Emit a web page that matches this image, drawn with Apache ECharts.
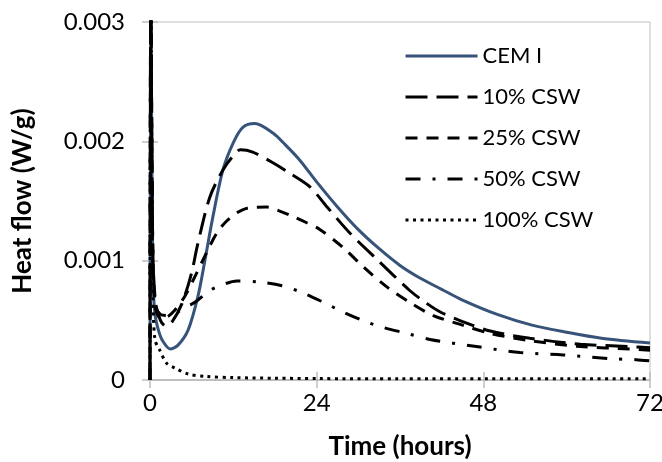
<!DOCTYPE html>
<html>
<head>
<meta charset="utf-8">
<script src="https://cdn.jsdelivr.net/npm/echarts@6/dist/echarts.min.js"></script>
<style>
  html, body { margin: 0; padding: 0; background: #fff; }
  #chart { width: 662px; height: 462px; }
</style>
</head>
<body>
<div id="chart"></div>
<script>
// legend names
var seriesNames = ['CEM I', '10% CSW', '25% CSW', '50% CSW', '100% CSW'];
var xTicks = [0, 24, 48, 72];

// CEM I
var cemTime = [0, 0.12, 0.4, 0.7, 1.2, 1.8, 2.9, 4, 5.5, 6.9, 7.9, 9, 10.5, 12, 13.4, 15.1, 17.7, 19.5, 21.6, 24, 27, 30, 33, 36, 39, 42, 45, 50, 55, 60, 65, 72];
var cemFlow = [0, 0.0033, 0.0009, 0.00056, 0.00042, 0.00033, 0.00026, 0.00029, 0.00042, 0.0007, 0.001, 0.00135, 0.00176, 0.00199, 0.00212, 0.00215, 0.00207, 0.00197, 0.00184, 0.00166, 0.00145, 0.00126, 0.0011, 0.00096, 0.00085, 0.00076, 0.00067, 0.00055, 0.00046, 0.0004, 0.00035, 0.00031];

// 10% CSW
var csw10Time = [0, 0.12, 0.4, 0.8, 1.5, 2.3, 3.2, 4.6, 6, 6.8, 8.6, 10.5, 12, 13, 14.8, 17.7, 20.2, 23, 25.5, 28.8, 32.7, 37.4, 39.9, 41.8, 45, 49, 54.7, 62, 69, 72];
var csw10Flow = [0, 0.0033, 0.0011, 0.00065, 0.0005, 0.00045, 0.00049, 0.00064, 0.0009, 0.00112, 0.00153, 0.00176, 0.00188, 0.00193, 0.00191, 0.00182, 0.00173, 0.00162, 0.00145, 0.00123, 0.00101, 0.00075, 0.00064, 0.00057, 0.00049, 0.00041, 0.00035, 0.0003, 0.00028, 0.00027];

// 25% CSW
var csw25Time = [0, 0.12, 0.4, 0.8, 1.5, 2.5, 3.5, 5, 6.5, 8, 9.6, 11, 12.5, 14, 16.8, 18.5, 20.6, 22.5, 24.5, 27.8, 30.7, 34.1, 37.4, 40.8, 45, 49, 54.7, 62, 69, 72];
var csw25Flow = [0, 0.0033, 0.0011, 0.0006, 0.00052, 0.00053, 0.00058, 0.0007, 0.00087, 0.00105, 0.00123, 0.00133, 0.0014, 0.00144, 0.00145, 0.00142, 0.00137, 0.00132, 0.00126, 0.00111, 0.00095, 0.00078, 0.00065, 0.00054, 0.00046, 0.00039, 0.00033, 0.00028, 0.00026, 0.00025];

// 50% CSW
var csw50Time = [0, 0.12, 0.4, 0.8, 1.5, 2.5, 4, 5.5, 6.7, 8.6, 10.5, 12.5, 15.8, 19, 22, 25, 27.8, 31, 33.6, 37, 40.3, 47, 53.3, 59.5, 66, 70, 72];
var csw50Flow = [0, 0.0033, 0.0011, 0.00062, 0.00055, 0.00054, 0.00057, 0.00062, 0.00066, 0.00075, 0.0008, 0.00083, 0.00082, 0.00079, 0.00073, 0.00065, 0.00057, 0.00049, 0.00044, 0.00039, 0.00034, 0.00028, 0.00023, 0.00021, 0.00018, 0.00017, 0.00016];

// 100% CSW
var csw100Time = [0, 0.12, 0.4, 0.7, 1.4, 2.4, 3.6, 5.5, 8, 12, 18, 24, 36, 48, 60, 72];
var csw100Flow = [0, 0.0033, 0.0008, 0.00034, 0.00025, 0.00014, 0.0001, 0.00005, 0.00003, 0.00002, 0.000015, 0.000012, 0.00001, 0.00001, 0.00001, 0.00001];

function zip(t, v) {
	var out = [];
	for (var i = 0; i < t.length; i++) {
		out.push([t[i], v[i]]);
	}
	return out;
}

var font = 'Lato, "Open Sans", sans-serif';
var gray = '#bfbfbf';

function mkSeries(name, t, v, color, dash) {
	return {
		name : name,
		type : 'line',
		data : zip(t, v),
		symbol : 'none',
		smooth : 0.3,
		clip : true,
		lineStyle : {
			color : color,
			width : 3,
			type : dash,
			cap : 'butt'
		},
		itemStyle : { color : color }
	};
}

var chart = echarts.init(document.getElementById('chart'));
var option = {
	animation : false,
	backgroundColor : '#fff',
	grid : {
		left : 150,
		right : 12,
		top : 22,
		bottom : 82,
		outerBoundsMode : 'none',
		containLabel : false,
		show : true,
		borderColor : gray,
		borderWidth : 1
	},
	legend : {
		orient : 'vertical',
		left : 399,
		top : 40,
		itemWidth : 72,
		itemHeight : 22,
		itemGap : 19,
		data : seriesNames,
		itemStyle : { opacity : 0 },
		lineStyle : { width : 3 },
		textStyle : { fontFamily : font, fontSize : 22, color : '#000' }
	},
	xAxis : [ {
		type : 'value',
		min : 0,
		max : 72,
		interval : 24,
		name : 'Time (hours)',
		nameLocation : 'middle',
		nameGap : 54,
		nameTextStyle : { fontFamily : font, fontSize : 26, fontWeight : 'bold', color : '#000' },
		axisLine : { show : true, lineStyle : { color : gray, width : 2 } },
		axisTick : { show : true, length : 8, lineStyle : { color : gray, width : 1.5 } },
		axisLabel : {
			margin : 11,
			fontFamily : font,
			fontSize : 24,
			color : '#000',
			formatter : function(v) { return xTicks.indexOf(v) >= 0 ? String(v) : ''; }
		},
		splitLine : { show : false }
	}, {
		type : 'value',
		position : 'bottom',
		min : 0,
		max : 72,
		interval : 24,
		axisLine : { show : false },
		axisTick : { show : true, inside : true, length : 8, lineStyle : { color : gray, width : 1.5 } },
		axisLabel : { show : false },
		splitLine : { show : false }
	} ],
	yAxis : [ {
		type : 'value',
		min : 0,
		max : 0.003,
		interval : 0.001,
		name : 'Heat flow (W/g)',
		nameLocation : 'middle',
		nameGap : 114,
		nameTextStyle : { fontFamily : font, fontSize : 26, fontWeight : 'bold', color : '#000' },
		axisLine : { show : true, lineStyle : { color : gray, width : 1.5 } },
		axisTick : { show : true, length : 8, lineStyle : { color : gray, width : 1.5 } },
		axisLabel : {
			margin : 25,
			fontFamily : font,
			fontSize : 24,
			color : '#000',
			formatter : function(v) { return v === 0 ? '0' : v.toFixed(3); }
		},
		splitLine : { show : false }
	}, {
		type : 'value',
		position : 'left',
		min : 0,
		max : 0.003,
		interval : 0.001,
		axisLine : { show : false },
		axisTick : { show : true, inside : true, length : 8, lineStyle : { color : gray, width : 1.5 } },
		axisLabel : { show : false },
		splitLine : { show : false }
	} ],
	series : [
		mkSeries('CEM I', cemTime, cemFlow, '#37537a', 'solid'),
		mkSeries('10% CSW', csw10Time, csw10Flow, '#000', [22, 9]),
		mkSeries('25% CSW', csw25Time, csw25Flow, '#000', [12, 9]),
		mkSeries('50% CSW', csw50Time, csw50Flow, '#000', [15, 12, 3, 12]),
		mkSeries('100% CSW', csw100Time, csw100Flow, '#000', [3, 4.5])
	]
};
chart.setOption(option);
window.addEventListener('resize', chart.resize);
</script>
</body>
</html>
